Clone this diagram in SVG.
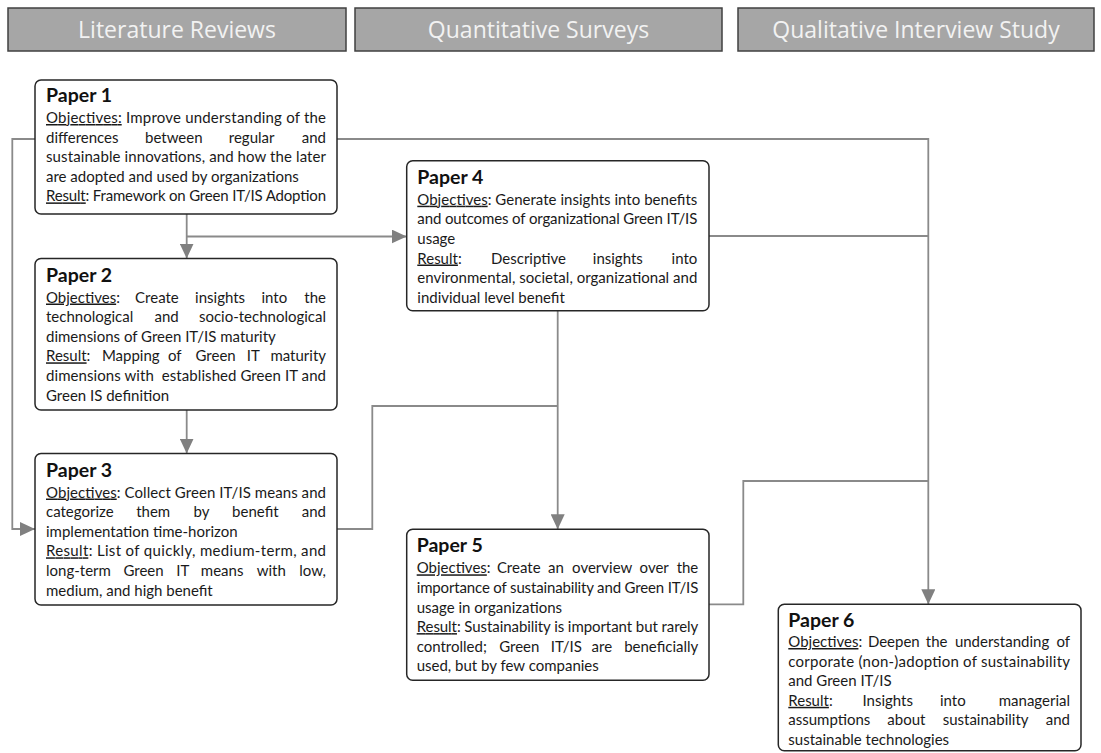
<svg xmlns="http://www.w3.org/2000/svg" width="1101" height="753" viewBox="0 0 1101 753">
  <defs>
    <style>
      .hdr rect { fill: #a6a6a6; stroke: #404040; stroke-width: 1.5; }
      .hdr text { font-family: "Open Sans", "Liberation Sans", sans-serif; font-size: 23px; fill: #f2f2f2; text-anchor: middle; }
      .box { fill: #ffffff; stroke: #262626; stroke-width: 1.5; }
      .t { font-family: Lato, "Liberation Sans", sans-serif; font-size: 19.5px; font-weight: bold; fill: #111111; }
      .b { font-family: Lato, "Liberation Sans", sans-serif; font-size: 15px; fill: #1a1a1a; }
      .e { text-anchor: end; }
      .u { text-decoration: underline; }
      .c { fill: none; stroke: #8a8a8a; stroke-width: 1.8; }
    </style>
    <marker id="arr" viewBox="0 0 15 14" refX="15" refY="7" markerWidth="15" markerHeight="14" orient="auto" markerUnits="userSpaceOnUse">
      <path d="M0,0 L15,7 L0,14 Z" fill="#808080"/>
    </marker>
  </defs>

  <!-- column headers -->
  <g id="header-literature" class="hdr">
    <rect x="8" y="8" width="338" height="43"/>
    <text x="177" y="38">Literature Reviews</text>
  </g>
  <g id="header-quantitative" class="hdr">
    <rect x="355" y="8" width="367" height="43"/>
    <text x="538.5" y="38">Quantitative Surveys</text>
  </g>
  <g id="header-qualitative" class="hdr">
    <rect x="738" y="8" width="356" height="43"/>
    <text x="916" y="38">Qualitative Interview Study</text>
  </g>

  <!-- connectors -->
  <g id="connectors">
    <path class="c" d="M186.7,214 V258.5" marker-end="url(#arr)"/>
    <path class="c" d="M186.7,236.5 H406.7" marker-end="url(#arr)"/>
    <path class="c" d="M35,139 H12.3 V529 H35" marker-end="url(#arr)"/>
    <path class="c" d="M337,139 H928.3 V604.3" marker-end="url(#arr)"/>
    <path class="c" d="M709,236 H928.3"/>
    <path class="c" d="M709,604.3 H743.3 V481 H928.3"/>
    <path class="c" d="M186.7,410 V453.5" marker-end="url(#arr)"/>
    <path class="c" d="M337,529 H372.3 V406 H557.7"/>
    <path class="c" d="M557.7,310.7 V529.3" marker-end="url(#arr)"/>
  </g>

  <!-- Paper 1 -->
  <g id="paper1">
    <rect class="box" x="35" y="80" width="302" height="134" rx="6"/>
    <text class="t" x="46" y="101.5">Paper 1</text>
    <text class="b" x="46" y="123" textLength="280" lengthAdjust="spacing"><tspan class="u">Objectives:</tspan> Improve understanding of the</text>
    <text class="b" x="46" y="142.6">differences</text>
    <text class="b" x="145" y="142.6">between</text>
    <text class="b" x="228.8" y="142.6">regular</text>
    <text class="b e" x="326" y="142.6">and</text>
    <text class="b" x="46" y="162.2" textLength="280" lengthAdjust="spacing">sustainable innovations, and how the later</text>
    <text class="b" x="46" y="181.8">are adopted and used by organizations</text>
    <text class="b" x="46" y="201.4" textLength="280" lengthAdjust="spacing"><tspan class="u">Result</tspan>: Framework on Green IT/IS Adoption</text>
  </g>

  <!-- Paper 2 -->
  <g id="paper2">
    <rect class="box" x="35" y="258.5" width="302" height="151.5" rx="6"/>
    <text class="t" x="46" y="281.5">Paper 2</text>
    <text class="b" x="46" y="302.5"><tspan class="u">Objectives</tspan>:</text>
    <text class="b" x="135.1" y="302.5">Create</text>
    <text class="b" x="195.1" y="302.5">insights</text>
    <text class="b" x="261.5" y="302.5">into</text>
    <text class="b e" x="326" y="302.5">the</text>
    <text class="b" x="46" y="322.1">technological</text>
    <text class="b" x="154.5" y="322.1">and</text>
    <text class="b e" x="326" y="322.1">socio-technological</text>
    <text class="b" x="46" y="341.7">dimensions of Green IT/IS maturity</text>
    <text class="b" x="46" y="361.3"><tspan class="u">Result</tspan>:</text>
    <text class="b" x="101.9" y="361.3">Mapping</text>
    <text class="b" x="168" y="361.3">of</text>
    <text class="b" x="195.5" y="361.3">Green</text>
    <text class="b" x="246.8" y="361.3">IT</text>
    <text class="b e" x="326" y="361.3">maturity</text>
    <text class="b" x="46" y="380.9" textLength="280" lengthAdjust="spacing">dimensions with&#160; established Green IT and</text>
    <text class="b" x="46" y="400.5">Green IS definition</text>
  </g>

  <!-- Paper 3 -->
  <g id="paper3">
    <rect class="box" x="35" y="453.5" width="302" height="151.5" rx="6"/>
    <text class="t" x="46" y="476.5">Paper 3</text>
    <text class="b" x="46" y="497.5" textLength="280" lengthAdjust="spacing"><tspan class="u">Objectives</tspan>: Collect Green IT/IS means and</text>
    <text class="b" x="46" y="517.1">categorize</text>
    <text class="b" x="136.2" y="517.1">them</text>
    <text class="b" x="193.6" y="517.1">by</text>
    <text class="b" x="232.1" y="517.1">benefit</text>
    <text class="b e" x="326" y="517.1">and</text>
    <text class="b" x="46" y="536.7">implementation time-horizon</text>
    <text class="b" x="46" y="556.3" textLength="280" lengthAdjust="spacing"><tspan class="u">Result</tspan>: List of quickly, medium-term, and</text>
    <text class="b" x="46" y="575.9">long-term</text>
    <text class="b" x="123.4" y="575.9">Green</text>
    <text class="b" x="176.2" y="575.9">IT</text>
    <text class="b" x="200.8" y="575.9">means</text>
    <text class="b" x="256.7" y="575.9">with</text>
    <text class="b e" x="326" y="575.9">low,</text>
    <text class="b" x="46" y="595.5">medium, and high benefit</text>
  </g>

  <!-- Paper 4 -->
  <g id="paper4">
    <rect class="box" x="406.7" y="160.7" width="302.3" height="150" rx="6"/>
    <text class="t" x="417.3" y="183.7">Paper 4</text>
    <text class="b" x="417.3" y="204.7" textLength="280" lengthAdjust="spacing"><tspan class="u">Objectives</tspan>: Generate insights into benefits</text>
    <text class="b" x="417.3" y="224.3" textLength="280" lengthAdjust="spacing">and outcomes of organizational Green IT/IS</text>
    <text class="b" x="417.3" y="243.9">usage</text>
    <text class="b" x="417.3" y="263.5"><tspan class="u">Result</tspan>:</text>
    <text class="b" x="491" y="263.5">Descriptive</text>
    <text class="b" x="592.8" y="263.5">insights</text>
    <text class="b e" x="697.3" y="263.5">into</text>
    <text class="b" x="417.3" y="283.1" textLength="280" lengthAdjust="spacing">environmental, societal, organizational and</text>
    <text class="b" x="417.3" y="302.7">individual level benefit</text>
  </g>

  <!-- Paper 5 -->
  <g id="paper5">
    <rect class="box" x="406.7" y="529.3" width="302.3" height="151" rx="6"/>
    <text class="t" x="416.7" y="552.3">Paper 5</text>
    <text class="b" x="416.7" y="573.3"><tspan class="u">Objectives</tspan>:</text>
    <text class="b" x="496.9" y="573.3">Create</text>
    <text class="b" x="548" y="573.3">an</text>
    <text class="b" x="572.1" y="573.3">overview</text>
    <text class="b" x="639.6" y="573.3">over</text>
    <text class="b e" x="698.3" y="573.3">the</text>
    <text class="b" x="416.7" y="592.9" textLength="281.6" lengthAdjust="spacing">importance of sustainability and Green IT/IS</text>
    <text class="b" x="416.7" y="612.5">usage in organizations</text>
    <text class="b" x="416.7" y="632.1" textLength="281.6" lengthAdjust="spacing"><tspan class="u">Result</tspan>: Sustainability is important but rarely</text>
    <text class="b" x="416.7" y="651.7">controlled;</text>
    <text class="b" x="499.2" y="651.7">Green</text>
    <text class="b" x="550.7" y="651.7">IT/IS</text>
    <text class="b" x="591.6" y="651.7">are</text>
    <text class="b e" x="698.3" y="651.7">beneficially</text>
    <text class="b" x="416.7" y="671.3">used, but by few companies</text>
  </g>

  <!-- Paper 6 -->
  <g id="paper6">
    <rect class="box" x="778.3" y="604.3" width="302.7" height="146.4" rx="6"/>
    <text class="t" x="788.3" y="627.3">Paper 6</text>
    <text class="b" x="788.3" y="647"><tspan class="u">Objectives</tspan>:</text>
    <text class="b" x="867.9" y="647">Deepen</text>
    <text class="b" x="925.8" y="647">the</text>
    <text class="b" x="954.9" y="647">understanding</text>
    <text class="b e" x="1070" y="647">of</text>
    <text class="b" x="788.3" y="666.6" textLength="281.7" lengthAdjust="spacing">corporate (non-)adoption of sustainability</text>
    <text class="b" x="788.3" y="686.2">and Green IT/IS</text>
    <text class="b" x="788.3" y="705.8"><tspan class="u">Result</tspan>:</text>
    <text class="b" x="862.5" y="705.8">Insights</text>
    <text class="b" x="940" y="705.8">into</text>
    <text class="b e" x="1070" y="705.8">managerial</text>
    <text class="b" x="788.3" y="725.4">assumptions</text>
    <text class="b" x="887.3" y="725.4">about</text>
    <text class="b" x="942.7" y="725.4">sustainability</text>
    <text class="b e" x="1070" y="725.4">and</text>
    <text class="b" x="788.3" y="745">sustainable technologies</text>
  </g>
</svg>
